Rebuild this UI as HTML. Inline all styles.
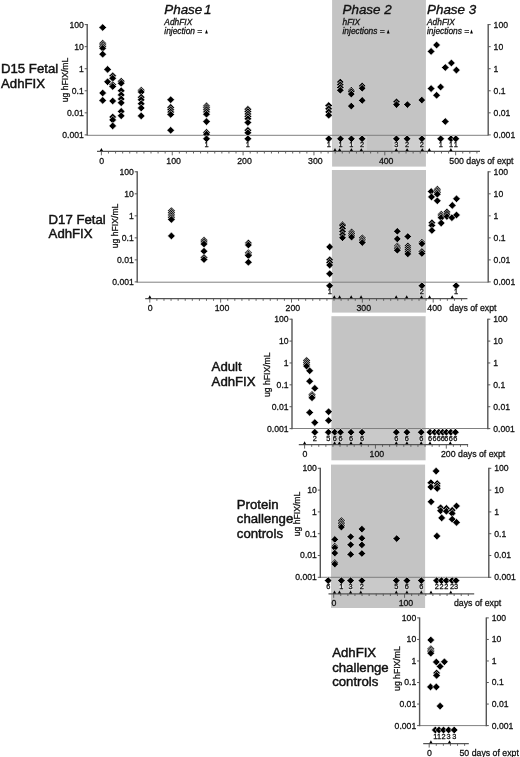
<!DOCTYPE html>
<html><head><meta charset="utf-8"><title>hFIX expression figure</title>
<style>
html,body{margin:0;padding:0;background:#fff;}
body{width:520px;height:757px;overflow:hidden;}
svg{display:block;filter:blur(0.35px);}
text{font-family:"Liberation Sans",Arial,sans-serif;fill:#111;stroke:#111;stroke-width:0.28px;}
.t{font-size:8.65px;}
.u{font-size:8.75px;}
.s{font-size:7.4px;}
.T{font-size:13.2px;stroke-width:0.45px;}
.y{font-size:8.65px;}
.P{font-size:13.4px;font-style:italic;stroke-width:0.35px;}
.P1{word-spacing:-2px;}
.p{font-size:8.4px;font-style:italic;}
.d{fill:#000;stroke:#fff;stroke-width:0.6;stroke-linejoin:miter;}
</style></head>
<body>
<svg width="520" height="757" viewBox="0 0 520 757">
<rect width="520" height="757" fill="#fff"/>
<rect x="332.1" y="0" width="93.8" height="166.6" fill="#c4c4c4"/>
<rect x="331.9" y="170" width="94.1" height="142.6" fill="#c4c4c4"/>
<rect x="331.4" y="316.2" width="94.2" height="144.1" fill="#c4c4c4"/>
<rect x="331" y="464.6" width="94.1" height="143.4" fill="#c4c4c4"/>
<rect x="332.5" y="136.3" width="34.5" height="14.2" fill="#cfcfcf"/>
<rect x="392.5" y="136.3" width="33.3" height="14.2" fill="#cfcfcf"/>
<rect x="331.9" y="283" width="94.1" height="15" fill="#c9c9c9"/>
<rect x="331.4" y="429.3" width="94.2" height="14.7" fill="#c9c9c9"/>
<rect x="331" y="578.2" width="94.1" height="15.1" fill="#c9c9c9"/>
<line x1="87.2" y1="135.3" x2="488.2" y2="135.3" stroke="#808080" stroke-width="1"/>
<line x1="87.2" y1="24.1" x2="87.2" y2="135.5" stroke="#555" stroke-width="1.4"/>
<line x1="488.2" y1="24.1" x2="488.2" y2="135.5" stroke="#555" stroke-width="1.4"/>
<line x1="84.7" y1="24.6" x2="87.2" y2="24.6" stroke="#555" stroke-width="1"/>
<line x1="488.2" y1="24.6" x2="490.7" y2="24.6" stroke="#555" stroke-width="1"/>
<text class="t" x="83.8" y="27.5" text-anchor="end">100</text>
<text class="t" x="493.6" y="27.5">100</text>
<line x1="84.7" y1="46.66" x2="87.2" y2="46.66" stroke="#555" stroke-width="1"/>
<line x1="488.2" y1="46.66" x2="490.7" y2="46.66" stroke="#555" stroke-width="1"/>
<text class="t" x="83.8" y="49.56" text-anchor="end">10</text>
<text class="t" x="493.6" y="49.56">10</text>
<line x1="84.7" y1="68.72" x2="87.2" y2="68.72" stroke="#555" stroke-width="1"/>
<line x1="488.2" y1="68.72" x2="490.7" y2="68.72" stroke="#555" stroke-width="1"/>
<text class="t" x="83.8" y="71.62" text-anchor="end">1</text>
<text class="t" x="493.6" y="71.62">1</text>
<line x1="84.7" y1="90.78" x2="87.2" y2="90.78" stroke="#555" stroke-width="1"/>
<line x1="488.2" y1="90.78" x2="490.7" y2="90.78" stroke="#555" stroke-width="1"/>
<text class="t" x="83.8" y="93.68" text-anchor="end">0.1</text>
<text class="t" x="493.6" y="93.68">0.1</text>
<line x1="84.7" y1="112.84" x2="87.2" y2="112.84" stroke="#555" stroke-width="1"/>
<line x1="488.2" y1="112.84" x2="490.7" y2="112.84" stroke="#555" stroke-width="1"/>
<text class="t" x="83.8" y="115.74" text-anchor="end">0.01</text>
<text class="t" x="493.6" y="115.74">0.01</text>
<line x1="84.7" y1="134.9" x2="87.2" y2="134.9" stroke="#555" stroke-width="1"/>
<line x1="488.2" y1="134.9" x2="490.7" y2="134.9" stroke="#555" stroke-width="1"/>
<text class="t" x="83.8" y="137.8" text-anchor="end">0.001</text>
<text class="t" x="493.6" y="137.8">0.001</text>
<line x1="97" y1="151.3" x2="480" y2="151.3" stroke="#555" stroke-width="1.2"/>
<line x1="101.4" y1="151.3" x2="101.4" y2="155.3" stroke="#555" stroke-width="0.9"/>
<line x1="108.48" y1="151.3" x2="108.48" y2="153.5" stroke="#555" stroke-width="0.9"/>
<line x1="115.57" y1="151.3" x2="115.57" y2="153.5" stroke="#555" stroke-width="0.9"/>
<line x1="122.66" y1="151.3" x2="122.66" y2="153.5" stroke="#555" stroke-width="0.9"/>
<line x1="129.74" y1="151.3" x2="129.74" y2="153.5" stroke="#555" stroke-width="0.9"/>
<line x1="136.83" y1="151.3" x2="136.83" y2="153.5" stroke="#555" stroke-width="0.9"/>
<line x1="143.91" y1="151.3" x2="143.91" y2="153.5" stroke="#555" stroke-width="0.9"/>
<line x1="151" y1="151.3" x2="151" y2="153.5" stroke="#555" stroke-width="0.9"/>
<line x1="158.08" y1="151.3" x2="158.08" y2="153.5" stroke="#555" stroke-width="0.9"/>
<line x1="165.17" y1="151.3" x2="165.17" y2="153.5" stroke="#555" stroke-width="0.9"/>
<line x1="172.25" y1="151.3" x2="172.25" y2="155.3" stroke="#555" stroke-width="0.9"/>
<line x1="179.34" y1="151.3" x2="179.34" y2="153.5" stroke="#555" stroke-width="0.9"/>
<line x1="186.42" y1="151.3" x2="186.42" y2="153.5" stroke="#555" stroke-width="0.9"/>
<line x1="193.5" y1="151.3" x2="193.5" y2="153.5" stroke="#555" stroke-width="0.9"/>
<line x1="200.59" y1="151.3" x2="200.59" y2="153.5" stroke="#555" stroke-width="0.9"/>
<line x1="207.68" y1="151.3" x2="207.68" y2="153.5" stroke="#555" stroke-width="0.9"/>
<line x1="214.76" y1="151.3" x2="214.76" y2="153.5" stroke="#555" stroke-width="0.9"/>
<line x1="221.85" y1="151.3" x2="221.85" y2="153.5" stroke="#555" stroke-width="0.9"/>
<line x1="228.93" y1="151.3" x2="228.93" y2="153.5" stroke="#555" stroke-width="0.9"/>
<line x1="236.02" y1="151.3" x2="236.02" y2="153.5" stroke="#555" stroke-width="0.9"/>
<line x1="243.1" y1="151.3" x2="243.1" y2="155.3" stroke="#555" stroke-width="0.9"/>
<line x1="250.19" y1="151.3" x2="250.19" y2="153.5" stroke="#555" stroke-width="0.9"/>
<line x1="257.27" y1="151.3" x2="257.27" y2="153.5" stroke="#555" stroke-width="0.9"/>
<line x1="264.36" y1="151.3" x2="264.36" y2="153.5" stroke="#555" stroke-width="0.9"/>
<line x1="271.44" y1="151.3" x2="271.44" y2="153.5" stroke="#555" stroke-width="0.9"/>
<line x1="278.52" y1="151.3" x2="278.52" y2="153.5" stroke="#555" stroke-width="0.9"/>
<line x1="285.61" y1="151.3" x2="285.61" y2="153.5" stroke="#555" stroke-width="0.9"/>
<line x1="292.7" y1="151.3" x2="292.7" y2="153.5" stroke="#555" stroke-width="0.9"/>
<line x1="299.78" y1="151.3" x2="299.78" y2="153.5" stroke="#555" stroke-width="0.9"/>
<line x1="306.87" y1="151.3" x2="306.87" y2="153.5" stroke="#555" stroke-width="0.9"/>
<line x1="313.95" y1="151.3" x2="313.95" y2="155.3" stroke="#555" stroke-width="0.9"/>
<line x1="321.04" y1="151.3" x2="321.04" y2="153.5" stroke="#555" stroke-width="0.9"/>
<line x1="328.12" y1="151.3" x2="328.12" y2="153.5" stroke="#555" stroke-width="0.9"/>
<line x1="335.21" y1="151.3" x2="335.21" y2="153.5" stroke="#555" stroke-width="0.9"/>
<line x1="342.29" y1="151.3" x2="342.29" y2="153.5" stroke="#555" stroke-width="0.9"/>
<line x1="349.38" y1="151.3" x2="349.38" y2="153.5" stroke="#555" stroke-width="0.9"/>
<line x1="356.46" y1="151.3" x2="356.46" y2="153.5" stroke="#555" stroke-width="0.9"/>
<line x1="363.54" y1="151.3" x2="363.54" y2="153.5" stroke="#555" stroke-width="0.9"/>
<line x1="370.63" y1="151.3" x2="370.63" y2="153.5" stroke="#555" stroke-width="0.9"/>
<line x1="377.72" y1="151.3" x2="377.72" y2="153.5" stroke="#555" stroke-width="0.9"/>
<line x1="384.8" y1="151.3" x2="384.8" y2="155.3" stroke="#555" stroke-width="0.9"/>
<line x1="391.88" y1="151.3" x2="391.88" y2="153.5" stroke="#555" stroke-width="0.9"/>
<line x1="398.97" y1="151.3" x2="398.97" y2="153.5" stroke="#555" stroke-width="0.9"/>
<line x1="406.06" y1="151.3" x2="406.06" y2="153.5" stroke="#555" stroke-width="0.9"/>
<line x1="413.14" y1="151.3" x2="413.14" y2="153.5" stroke="#555" stroke-width="0.9"/>
<line x1="420.23" y1="151.3" x2="420.23" y2="153.5" stroke="#555" stroke-width="0.9"/>
<line x1="427.31" y1="151.3" x2="427.31" y2="153.5" stroke="#555" stroke-width="0.9"/>
<line x1="434.39" y1="151.3" x2="434.39" y2="153.5" stroke="#555" stroke-width="0.9"/>
<line x1="441.48" y1="151.3" x2="441.48" y2="153.5" stroke="#555" stroke-width="0.9"/>
<line x1="448.57" y1="151.3" x2="448.57" y2="153.5" stroke="#555" stroke-width="0.9"/>
<line x1="455.65" y1="151.3" x2="455.65" y2="155.3" stroke="#555" stroke-width="0.9"/>
<line x1="462.74" y1="151.3" x2="462.74" y2="153.5" stroke="#555" stroke-width="0.9"/>
<line x1="469.82" y1="151.3" x2="469.82" y2="153.5" stroke="#555" stroke-width="0.9"/>
<line x1="476.9" y1="151.3" x2="476.9" y2="153.5" stroke="#555" stroke-width="0.9"/>
<text class="u" x="101.7" y="163.9" text-anchor="middle">0</text>
<text class="u" x="173.65" y="163.9" text-anchor="middle">100</text>
<text class="u" x="244.5" y="163.9" text-anchor="middle">200</text>
<text class="u" x="315.35" y="163.9" text-anchor="middle">300</text>
<text class="u" x="386.2" y="163.9" text-anchor="middle">400</text>
<text class="u" x="449.3" y="163.9">500 days of expt</text>
<line x1="137.2" y1="282.2" x2="488.2" y2="282.2" stroke="#808080" stroke-width="1"/>
<line x1="137.2" y1="171.3" x2="137.2" y2="282.5" stroke="#555" stroke-width="1.4"/>
<line x1="488.2" y1="171.3" x2="488.2" y2="282.5" stroke="#555" stroke-width="1.4"/>
<line x1="134.7" y1="171.8" x2="137.2" y2="171.8" stroke="#555" stroke-width="1"/>
<line x1="488.2" y1="171.8" x2="490.7" y2="171.8" stroke="#555" stroke-width="1"/>
<text class="t" x="133.8" y="174.7" text-anchor="end">100</text>
<text class="t" x="493.6" y="174.7">100</text>
<line x1="134.7" y1="193.82" x2="137.2" y2="193.82" stroke="#555" stroke-width="1"/>
<line x1="488.2" y1="193.82" x2="490.7" y2="193.82" stroke="#555" stroke-width="1"/>
<text class="t" x="133.8" y="196.72" text-anchor="end">10</text>
<text class="t" x="493.6" y="196.72">10</text>
<line x1="134.7" y1="215.84" x2="137.2" y2="215.84" stroke="#555" stroke-width="1"/>
<line x1="488.2" y1="215.84" x2="490.7" y2="215.84" stroke="#555" stroke-width="1"/>
<text class="t" x="133.8" y="218.74" text-anchor="end">1</text>
<text class="t" x="493.6" y="218.74">1</text>
<line x1="134.7" y1="237.86" x2="137.2" y2="237.86" stroke="#555" stroke-width="1"/>
<line x1="488.2" y1="237.86" x2="490.7" y2="237.86" stroke="#555" stroke-width="1"/>
<text class="t" x="133.8" y="240.76" text-anchor="end">0.1</text>
<text class="t" x="493.6" y="240.76">0.1</text>
<line x1="134.7" y1="259.88" x2="137.2" y2="259.88" stroke="#555" stroke-width="1"/>
<line x1="488.2" y1="259.88" x2="490.7" y2="259.88" stroke="#555" stroke-width="1"/>
<text class="t" x="133.8" y="262.78" text-anchor="end">0.01</text>
<text class="t" x="493.6" y="262.78">0.01</text>
<line x1="134.7" y1="281.9" x2="137.2" y2="281.9" stroke="#555" stroke-width="1"/>
<line x1="488.2" y1="281.9" x2="490.7" y2="281.9" stroke="#555" stroke-width="1"/>
<text class="t" x="133.8" y="284.8" text-anchor="end">0.001</text>
<text class="t" x="493.6" y="284.8">0.001</text>
<line x1="145.2" y1="298.6" x2="467.4" y2="298.6" stroke="#555" stroke-width="1.2"/>
<line x1="149.8" y1="298.6" x2="149.8" y2="302.6" stroke="#555" stroke-width="0.9"/>
<line x1="156.89" y1="298.6" x2="156.89" y2="300.8" stroke="#555" stroke-width="0.9"/>
<line x1="163.97" y1="298.6" x2="163.97" y2="300.8" stroke="#555" stroke-width="0.9"/>
<line x1="171.06" y1="298.6" x2="171.06" y2="300.8" stroke="#555" stroke-width="0.9"/>
<line x1="178.14" y1="298.6" x2="178.14" y2="300.8" stroke="#555" stroke-width="0.9"/>
<line x1="185.23" y1="298.6" x2="185.23" y2="300.8" stroke="#555" stroke-width="0.9"/>
<line x1="192.31" y1="298.6" x2="192.31" y2="300.8" stroke="#555" stroke-width="0.9"/>
<line x1="199.4" y1="298.6" x2="199.4" y2="300.8" stroke="#555" stroke-width="0.9"/>
<line x1="206.48" y1="298.6" x2="206.48" y2="300.8" stroke="#555" stroke-width="0.9"/>
<line x1="213.56" y1="298.6" x2="213.56" y2="300.8" stroke="#555" stroke-width="0.9"/>
<line x1="220.65" y1="298.6" x2="220.65" y2="302.6" stroke="#555" stroke-width="0.9"/>
<line x1="227.74" y1="298.6" x2="227.74" y2="300.8" stroke="#555" stroke-width="0.9"/>
<line x1="234.82" y1="298.6" x2="234.82" y2="300.8" stroke="#555" stroke-width="0.9"/>
<line x1="241.91" y1="298.6" x2="241.91" y2="300.8" stroke="#555" stroke-width="0.9"/>
<line x1="248.99" y1="298.6" x2="248.99" y2="300.8" stroke="#555" stroke-width="0.9"/>
<line x1="256.08" y1="298.6" x2="256.08" y2="300.8" stroke="#555" stroke-width="0.9"/>
<line x1="263.16" y1="298.6" x2="263.16" y2="300.8" stroke="#555" stroke-width="0.9"/>
<line x1="270.25" y1="298.6" x2="270.25" y2="300.8" stroke="#555" stroke-width="0.9"/>
<line x1="277.33" y1="298.6" x2="277.33" y2="300.8" stroke="#555" stroke-width="0.9"/>
<line x1="284.42" y1="298.6" x2="284.42" y2="300.8" stroke="#555" stroke-width="0.9"/>
<line x1="291.5" y1="298.6" x2="291.5" y2="302.6" stroke="#555" stroke-width="0.9"/>
<line x1="298.59" y1="298.6" x2="298.59" y2="300.8" stroke="#555" stroke-width="0.9"/>
<line x1="305.67" y1="298.6" x2="305.67" y2="300.8" stroke="#555" stroke-width="0.9"/>
<line x1="312.75" y1="298.6" x2="312.75" y2="300.8" stroke="#555" stroke-width="0.9"/>
<line x1="319.84" y1="298.6" x2="319.84" y2="300.8" stroke="#555" stroke-width="0.9"/>
<line x1="326.93" y1="298.6" x2="326.93" y2="300.8" stroke="#555" stroke-width="0.9"/>
<line x1="334.01" y1="298.6" x2="334.01" y2="300.8" stroke="#555" stroke-width="0.9"/>
<line x1="341.1" y1="298.6" x2="341.1" y2="300.8" stroke="#555" stroke-width="0.9"/>
<line x1="348.18" y1="298.6" x2="348.18" y2="300.8" stroke="#555" stroke-width="0.9"/>
<line x1="355.26" y1="298.6" x2="355.26" y2="300.8" stroke="#555" stroke-width="0.9"/>
<line x1="362.35" y1="298.6" x2="362.35" y2="302.6" stroke="#555" stroke-width="0.9"/>
<line x1="369.44" y1="298.6" x2="369.44" y2="300.8" stroke="#555" stroke-width="0.9"/>
<line x1="376.52" y1="298.6" x2="376.52" y2="300.8" stroke="#555" stroke-width="0.9"/>
<line x1="383.61" y1="298.6" x2="383.61" y2="300.8" stroke="#555" stroke-width="0.9"/>
<line x1="390.69" y1="298.6" x2="390.69" y2="300.8" stroke="#555" stroke-width="0.9"/>
<line x1="397.77" y1="298.6" x2="397.77" y2="300.8" stroke="#555" stroke-width="0.9"/>
<line x1="404.86" y1="298.6" x2="404.86" y2="300.8" stroke="#555" stroke-width="0.9"/>
<line x1="411.94" y1="298.6" x2="411.94" y2="300.8" stroke="#555" stroke-width="0.9"/>
<line x1="419.03" y1="298.6" x2="419.03" y2="300.8" stroke="#555" stroke-width="0.9"/>
<line x1="426.12" y1="298.6" x2="426.12" y2="300.8" stroke="#555" stroke-width="0.9"/>
<line x1="433.2" y1="298.6" x2="433.2" y2="302.6" stroke="#555" stroke-width="0.9"/>
<line x1="440.29" y1="298.6" x2="440.29" y2="300.8" stroke="#555" stroke-width="0.9"/>
<line x1="447.37" y1="298.6" x2="447.37" y2="300.8" stroke="#555" stroke-width="0.9"/>
<line x1="454.46" y1="298.6" x2="454.46" y2="300.8" stroke="#555" stroke-width="0.9"/>
<line x1="461.54" y1="298.6" x2="461.54" y2="300.8" stroke="#555" stroke-width="0.9"/>
<text class="u" x="150.1" y="311.2" text-anchor="middle">0</text>
<text class="u" x="222.05" y="311.2" text-anchor="middle">100</text>
<text class="u" x="292.9" y="311.2" text-anchor="middle">200</text>
<text class="u" x="363.75" y="311.2" text-anchor="middle">300</text>
<text class="u" x="434.6" y="311.2" text-anchor="middle">400</text>
<text class="u" x="449.3" y="311.2">days of expt</text>
<line x1="292" y1="428.5" x2="487.8" y2="428.5" stroke="#808080" stroke-width="1"/>
<line x1="292" y1="318.7" x2="292" y2="429.2" stroke="#555" stroke-width="1.4"/>
<line x1="487.8" y1="318.7" x2="487.8" y2="429.2" stroke="#555" stroke-width="1.4"/>
<line x1="289.5" y1="319.2" x2="292" y2="319.2" stroke="#555" stroke-width="1"/>
<line x1="487.8" y1="319.2" x2="490.3" y2="319.2" stroke="#555" stroke-width="1"/>
<text class="t" x="288.6" y="322.1" text-anchor="end">100</text>
<text class="t" x="493.2" y="322.1">100</text>
<line x1="289.5" y1="341.08" x2="292" y2="341.08" stroke="#555" stroke-width="1"/>
<line x1="487.8" y1="341.08" x2="490.3" y2="341.08" stroke="#555" stroke-width="1"/>
<text class="t" x="288.6" y="343.98" text-anchor="end">10</text>
<text class="t" x="493.2" y="343.98">10</text>
<line x1="289.5" y1="362.96" x2="292" y2="362.96" stroke="#555" stroke-width="1"/>
<line x1="487.8" y1="362.96" x2="490.3" y2="362.96" stroke="#555" stroke-width="1"/>
<text class="t" x="288.6" y="365.86" text-anchor="end">1</text>
<text class="t" x="493.2" y="365.86">1</text>
<line x1="289.5" y1="384.84" x2="292" y2="384.84" stroke="#555" stroke-width="1"/>
<line x1="487.8" y1="384.84" x2="490.3" y2="384.84" stroke="#555" stroke-width="1"/>
<text class="t" x="288.6" y="387.74" text-anchor="end">0.1</text>
<text class="t" x="493.2" y="387.74">0.1</text>
<line x1="289.5" y1="406.72" x2="292" y2="406.72" stroke="#555" stroke-width="1"/>
<line x1="487.8" y1="406.72" x2="490.3" y2="406.72" stroke="#555" stroke-width="1"/>
<text class="t" x="288.6" y="409.62" text-anchor="end">0.01</text>
<text class="t" x="493.2" y="409.62">0.01</text>
<line x1="289.5" y1="428.6" x2="292" y2="428.6" stroke="#555" stroke-width="1"/>
<line x1="487.8" y1="428.6" x2="490.3" y2="428.6" stroke="#555" stroke-width="1"/>
<text class="t" x="288.6" y="431.5" text-anchor="end">0.001</text>
<text class="t" x="493.2" y="431.5">0.001</text>
<line x1="298.8" y1="444.6" x2="468.1" y2="444.6" stroke="#555" stroke-width="1.2"/>
<line x1="304.6" y1="444.6" x2="304.6" y2="448.6" stroke="#555" stroke-width="0.9"/>
<line x1="311.69" y1="444.6" x2="311.69" y2="446.8" stroke="#555" stroke-width="0.9"/>
<line x1="318.77" y1="444.6" x2="318.77" y2="446.8" stroke="#555" stroke-width="0.9"/>
<line x1="325.86" y1="444.6" x2="325.86" y2="446.8" stroke="#555" stroke-width="0.9"/>
<line x1="332.94" y1="444.6" x2="332.94" y2="446.8" stroke="#555" stroke-width="0.9"/>
<line x1="340.03" y1="444.6" x2="340.03" y2="446.8" stroke="#555" stroke-width="0.9"/>
<line x1="347.11" y1="444.6" x2="347.11" y2="446.8" stroke="#555" stroke-width="0.9"/>
<line x1="354.2" y1="444.6" x2="354.2" y2="446.8" stroke="#555" stroke-width="0.9"/>
<line x1="361.28" y1="444.6" x2="361.28" y2="446.8" stroke="#555" stroke-width="0.9"/>
<line x1="368.37" y1="444.6" x2="368.37" y2="446.8" stroke="#555" stroke-width="0.9"/>
<line x1="375.45" y1="444.6" x2="375.45" y2="448.6" stroke="#555" stroke-width="0.9"/>
<line x1="382.54" y1="444.6" x2="382.54" y2="446.8" stroke="#555" stroke-width="0.9"/>
<line x1="389.62" y1="444.6" x2="389.62" y2="446.8" stroke="#555" stroke-width="0.9"/>
<line x1="396.71" y1="444.6" x2="396.71" y2="446.8" stroke="#555" stroke-width="0.9"/>
<line x1="403.79" y1="444.6" x2="403.79" y2="446.8" stroke="#555" stroke-width="0.9"/>
<line x1="410.88" y1="444.6" x2="410.88" y2="446.8" stroke="#555" stroke-width="0.9"/>
<line x1="417.96" y1="444.6" x2="417.96" y2="446.8" stroke="#555" stroke-width="0.9"/>
<line x1="425.05" y1="444.6" x2="425.05" y2="446.8" stroke="#555" stroke-width="0.9"/>
<line x1="432.13" y1="444.6" x2="432.13" y2="446.8" stroke="#555" stroke-width="0.9"/>
<line x1="439.22" y1="444.6" x2="439.22" y2="446.8" stroke="#555" stroke-width="0.9"/>
<line x1="446.3" y1="444.6" x2="446.3" y2="448.6" stroke="#555" stroke-width="0.9"/>
<line x1="453.38" y1="444.6" x2="453.38" y2="446.8" stroke="#555" stroke-width="0.9"/>
<line x1="460.47" y1="444.6" x2="460.47" y2="446.8" stroke="#555" stroke-width="0.9"/>
<line x1="467.56" y1="444.6" x2="467.56" y2="446.8" stroke="#555" stroke-width="0.9"/>
<text class="u" x="304.9" y="457.2" text-anchor="middle">0</text>
<text class="u" x="376.85" y="457.2" text-anchor="middle">100</text>
<text class="u" x="441" y="457.2">200 days of expt</text>
<line x1="320.3" y1="577.3" x2="488.8" y2="577.3" stroke="#808080" stroke-width="1"/>
<line x1="320.3" y1="467.8" x2="320.3" y2="577.9" stroke="#555" stroke-width="1.4"/>
<line x1="488.8" y1="467.8" x2="488.8" y2="577.9" stroke="#555" stroke-width="1.4"/>
<line x1="317.8" y1="468.3" x2="320.3" y2="468.3" stroke="#555" stroke-width="1"/>
<line x1="488.8" y1="468.3" x2="491.3" y2="468.3" stroke="#555" stroke-width="1"/>
<text class="t" x="316.9" y="471.2" text-anchor="end">100</text>
<text class="t" x="494.2" y="471.2">100</text>
<line x1="317.8" y1="490.1" x2="320.3" y2="490.1" stroke="#555" stroke-width="1"/>
<line x1="488.8" y1="490.1" x2="491.3" y2="490.1" stroke="#555" stroke-width="1"/>
<text class="t" x="316.9" y="493" text-anchor="end">10</text>
<text class="t" x="494.2" y="493">10</text>
<line x1="317.8" y1="511.9" x2="320.3" y2="511.9" stroke="#555" stroke-width="1"/>
<line x1="488.8" y1="511.9" x2="491.3" y2="511.9" stroke="#555" stroke-width="1"/>
<text class="t" x="316.9" y="514.8" text-anchor="end">1</text>
<text class="t" x="494.2" y="514.8">1</text>
<line x1="317.8" y1="533.7" x2="320.3" y2="533.7" stroke="#555" stroke-width="1"/>
<line x1="488.8" y1="533.7" x2="491.3" y2="533.7" stroke="#555" stroke-width="1"/>
<text class="t" x="316.9" y="536.6" text-anchor="end">0.1</text>
<text class="t" x="494.2" y="536.6">0.1</text>
<line x1="317.8" y1="555.5" x2="320.3" y2="555.5" stroke="#555" stroke-width="1"/>
<line x1="488.8" y1="555.5" x2="491.3" y2="555.5" stroke="#555" stroke-width="1"/>
<text class="t" x="316.9" y="558.4" text-anchor="end">0.01</text>
<text class="t" x="494.2" y="558.4">0.01</text>
<line x1="317.8" y1="577.3" x2="320.3" y2="577.3" stroke="#555" stroke-width="1"/>
<line x1="488.8" y1="577.3" x2="491.3" y2="577.3" stroke="#555" stroke-width="1"/>
<text class="t" x="316.9" y="580.2" text-anchor="end">0.001</text>
<text class="t" x="494.2" y="580.2">0.001</text>
<line x1="328.5" y1="593.8" x2="474.2" y2="593.8" stroke="#555" stroke-width="1.2"/>
<line x1="333.7" y1="593.8" x2="333.7" y2="597.8" stroke="#555" stroke-width="0.9"/>
<line x1="340.78" y1="593.8" x2="340.78" y2="596" stroke="#555" stroke-width="0.9"/>
<line x1="347.87" y1="593.8" x2="347.87" y2="596" stroke="#555" stroke-width="0.9"/>
<line x1="354.95" y1="593.8" x2="354.95" y2="596" stroke="#555" stroke-width="0.9"/>
<line x1="362.04" y1="593.8" x2="362.04" y2="596" stroke="#555" stroke-width="0.9"/>
<line x1="369.12" y1="593.8" x2="369.12" y2="596" stroke="#555" stroke-width="0.9"/>
<line x1="376.21" y1="593.8" x2="376.21" y2="596" stroke="#555" stroke-width="0.9"/>
<line x1="383.29" y1="593.8" x2="383.29" y2="596" stroke="#555" stroke-width="0.9"/>
<line x1="390.38" y1="593.8" x2="390.38" y2="596" stroke="#555" stroke-width="0.9"/>
<line x1="397.46" y1="593.8" x2="397.46" y2="596" stroke="#555" stroke-width="0.9"/>
<line x1="404.55" y1="593.8" x2="404.55" y2="597.8" stroke="#555" stroke-width="0.9"/>
<line x1="411.63" y1="593.8" x2="411.63" y2="596" stroke="#555" stroke-width="0.9"/>
<line x1="418.72" y1="593.8" x2="418.72" y2="596" stroke="#555" stroke-width="0.9"/>
<line x1="425.81" y1="593.8" x2="425.81" y2="596" stroke="#555" stroke-width="0.9"/>
<line x1="432.89" y1="593.8" x2="432.89" y2="596" stroke="#555" stroke-width="0.9"/>
<line x1="439.98" y1="593.8" x2="439.98" y2="596" stroke="#555" stroke-width="0.9"/>
<line x1="447.06" y1="593.8" x2="447.06" y2="596" stroke="#555" stroke-width="0.9"/>
<line x1="454.14" y1="593.8" x2="454.14" y2="596" stroke="#555" stroke-width="0.9"/>
<line x1="461.23" y1="593.8" x2="461.23" y2="596" stroke="#555" stroke-width="0.9"/>
<line x1="468.31" y1="593.8" x2="468.31" y2="596" stroke="#555" stroke-width="0.9"/>
<text class="u" x="334" y="606.4" text-anchor="middle">0</text>
<text class="u" x="405.95" y="606.4" text-anchor="middle">100</text>
<text class="u" x="454" y="606.4">days of expt</text>
<line x1="419.6" y1="725.6" x2="486.3" y2="725.6" stroke="#808080" stroke-width="1"/>
<line x1="419.6" y1="617.4" x2="419.6" y2="726.2" stroke="#555" stroke-width="1.4"/>
<line x1="486.3" y1="617.4" x2="486.3" y2="726.2" stroke="#555" stroke-width="1.4"/>
<line x1="417.1" y1="617.9" x2="419.6" y2="617.9" stroke="#555" stroke-width="1"/>
<line x1="486.3" y1="617.9" x2="488.8" y2="617.9" stroke="#555" stroke-width="1"/>
<text class="t" x="416.2" y="620.8" text-anchor="end">100</text>
<text class="t" x="491.7" y="620.8">100</text>
<line x1="417.1" y1="639.44" x2="419.6" y2="639.44" stroke="#555" stroke-width="1"/>
<line x1="486.3" y1="639.44" x2="488.8" y2="639.44" stroke="#555" stroke-width="1"/>
<text class="t" x="416.2" y="642.34" text-anchor="end">10</text>
<text class="t" x="491.7" y="642.34">10</text>
<line x1="417.1" y1="660.98" x2="419.6" y2="660.98" stroke="#555" stroke-width="1"/>
<line x1="486.3" y1="660.98" x2="488.8" y2="660.98" stroke="#555" stroke-width="1"/>
<text class="t" x="416.2" y="663.88" text-anchor="end">1</text>
<text class="t" x="491.7" y="663.88">1</text>
<line x1="417.1" y1="682.52" x2="419.6" y2="682.52" stroke="#555" stroke-width="1"/>
<line x1="486.3" y1="682.52" x2="488.8" y2="682.52" stroke="#555" stroke-width="1"/>
<text class="t" x="416.2" y="685.42" text-anchor="end">0.1</text>
<text class="t" x="491.7" y="685.42">0.1</text>
<line x1="417.1" y1="704.06" x2="419.6" y2="704.06" stroke="#555" stroke-width="1"/>
<line x1="486.3" y1="704.06" x2="488.8" y2="704.06" stroke="#555" stroke-width="1"/>
<text class="t" x="416.2" y="706.96" text-anchor="end">0.01</text>
<text class="t" x="491.7" y="706.96">0.01</text>
<line x1="417.1" y1="725.6" x2="419.6" y2="725.6" stroke="#555" stroke-width="1"/>
<line x1="486.3" y1="725.6" x2="488.8" y2="725.6" stroke="#555" stroke-width="1"/>
<text class="t" x="416.2" y="728.5" text-anchor="end">0.001</text>
<text class="t" x="491.7" y="728.5">0.001</text>
<line x1="423.2" y1="743.6" x2="468.8" y2="743.6" stroke="#555" stroke-width="1.2"/>
<line x1="429.2" y1="743.6" x2="429.2" y2="747.6" stroke="#555" stroke-width="0.9"/>
<line x1="436.28" y1="743.6" x2="436.28" y2="745.8" stroke="#555" stroke-width="0.9"/>
<line x1="443.37" y1="743.6" x2="443.37" y2="745.8" stroke="#555" stroke-width="0.9"/>
<line x1="450.45" y1="743.6" x2="450.45" y2="745.8" stroke="#555" stroke-width="0.9"/>
<line x1="457.54" y1="743.6" x2="457.54" y2="745.8" stroke="#555" stroke-width="0.9"/>
<line x1="464.62" y1="743.6" x2="464.62" y2="745.8" stroke="#555" stroke-width="0.9"/>
<text class="u" x="429.5" y="756.2" text-anchor="middle">0</text>
<text class="u" x="459.5" y="756.2">50 days of expt</text>
<path d="M99.8 151L101.4 147.9L103 151Z" fill="#000"/>
<path d="M333.4 151L335 147.9L336.6 151Z" fill="#000"/>
<path d="M338 151L339.6 147.9L341.2 151Z" fill="#000"/>
<path d="M349.8 151L351.4 147.9L353 151Z" fill="#000"/>
<path d="M359.7 151L361.3 147.9L362.9 151Z" fill="#000"/>
<path d="M394.7 151L396.3 147.9L397.9 151Z" fill="#000"/>
<path d="M405.5 151L407.1 147.9L408.7 151Z" fill="#000"/>
<path d="M420.7 151L422.3 147.9L423.9 151Z" fill="#000"/>
<path d="M427.7 151L429.3 147.9L430.9 151Z" fill="#000"/>
<path d="M449.3 151L450.9 147.9L452.5 151Z" fill="#000"/>
<path d="M148.2 298.3L149.8 295.2L151.4 298.3Z" fill="#000"/>
<path d="M332.7 298.3L334.3 295.2L335.9 298.3Z" fill="#000"/>
<path d="M338 298.3L339.6 295.2L341.2 298.3Z" fill="#000"/>
<path d="M349.6 298.3L351.2 295.2L352.8 298.3Z" fill="#000"/>
<path d="M359.5 298.3L361.1 295.2L362.7 298.3Z" fill="#000"/>
<path d="M394.6 298.3L396.2 295.2L397.8 298.3Z" fill="#000"/>
<path d="M405.1 298.3L406.7 295.2L408.3 298.3Z" fill="#000"/>
<path d="M419.9 298.3L421.5 295.2L423.1 298.3Z" fill="#000"/>
<path d="M428 298.3L429.6 295.2L431.2 298.3Z" fill="#000"/>
<path d="M450.6 298.3L452.2 295.2L453.8 298.3Z" fill="#000"/>
<path d="M303 444.3L304.6 441.2L306.2 444.3Z" fill="#000"/>
<path d="M333 444.3L334.6 441.2L336.2 444.3Z" fill="#000"/>
<path d="M337.8 444.3L339.4 441.2L341 444.3Z" fill="#000"/>
<path d="M349.4 444.3L351 441.2L352.6 444.3Z" fill="#000"/>
<path d="M359.4 444.3L361 441.2L362.6 444.3Z" fill="#000"/>
<path d="M394.7 444.3L396.3 441.2L397.9 444.3Z" fill="#000"/>
<path d="M405.3 444.3L406.9 441.2L408.5 444.3Z" fill="#000"/>
<path d="M419.6 444.3L421.2 441.2L422.8 444.3Z" fill="#000"/>
<path d="M428.4 444.3L430 441.2L431.6 444.3Z" fill="#000"/>
<path d="M448.7 444.3L450.3 441.2L451.9 444.3Z" fill="#000"/>
<path d="M332.9 593.5L334.5 590.4L336.1 593.5Z" fill="#000"/>
<path d="M337.8 593.5L339.4 590.4L341 593.5Z" fill="#000"/>
<path d="M349 593.5L350.6 590.4L352.2 593.5Z" fill="#000"/>
<path d="M359.2 593.5L360.8 590.4L362.4 593.5Z" fill="#000"/>
<path d="M394.7 593.5L396.3 590.4L397.9 593.5Z" fill="#000"/>
<path d="M405.3 593.5L406.9 590.4L408.5 593.5Z" fill="#000"/>
<path d="M419.7 593.5L421.3 590.4L422.9 593.5Z" fill="#000"/>
<path d="M429.4 593.5L431 590.4L432.6 593.5Z" fill="#000"/>
<path d="M449.2 593.5L450.8 590.4L452.4 593.5Z" fill="#000"/>
<path d="M429.3 743.3L430.9 740.2L432.5 743.3Z" fill="#000"/>
<path d="M447.9 743.3L449.5 740.2L451.1 743.3Z" fill="#000"/>
<path class="d" d="M102.7 23.7L106.5 27.5L102.7 31.3L98.9 27.5Z"/>
<path class="d" d="M102.7 39.4L106.5 43.2L102.7 47L98.9 43.2Z"/>
<path class="d" d="M102.7 41.1L106.5 44.9L102.7 48.7L98.9 44.9Z"/>
<path class="d" d="M102.7 42.8L106.5 46.6L102.7 50.4L98.9 46.6Z"/>
<path class="d" d="M102.7 44.5L106.5 48.3L102.7 52.1L98.9 48.3Z"/>
<path class="d" d="M102.7 50.4L106.5 54.2L102.7 58L98.9 54.2Z"/>
<path class="d" d="M102.7 89.2L106.5 93L102.7 96.8L98.9 93Z"/>
<path class="d" d="M102.7 96.6L106.5 100.4L102.7 104.2L98.9 100.4Z"/>
<path class="d" d="M107.6 65.6L111.4 69.4L107.6 73.2L103.8 69.4Z"/>
<path class="d" d="M107.6 78L111.4 81.8L107.6 85.6L103.8 81.8Z"/>
<path class="d" d="M112.7 72L116.5 75.8L112.7 79.6L108.9 75.8Z"/>
<path class="d" d="M112.7 74.5L116.5 78.3L112.7 82.1L108.9 78.3Z"/>
<path class="d" d="M112.7 80.9L116.5 84.7L112.7 88.5L108.9 84.7Z"/>
<path class="d" d="M112.7 82.7L116.5 86.5L112.7 90.3L108.9 86.5Z"/>
<path class="d" d="M112.7 97.2L116.5 101L112.7 104.8L108.9 101Z"/>
<path class="d" d="M112.7 113.2L116.5 117L112.7 120.8L108.9 117Z"/>
<path class="d" d="M112.7 116.1L116.5 119.9L112.7 123.7L108.9 119.9Z"/>
<path class="d" d="M112.7 122.1L116.5 125.9L112.7 129.7L108.9 125.9Z"/>
<path class="d" d="M121.2 77.4L125 81.2L121.2 85L117.4 81.2Z"/>
<path class="d" d="M121.2 79.4L125 83.2L121.2 87L117.4 83.2Z"/>
<path class="d" d="M121.2 86.9L125 90.7L121.2 94.5L117.4 90.7Z"/>
<path class="d" d="M121.2 91.1L125 94.9L121.2 98.7L117.4 94.9Z"/>
<path class="d" d="M121.2 95.2L125 99L121.2 102.8L117.4 99Z"/>
<path class="d" d="M121.2 99L125 102.8L121.2 106.6L117.4 102.8Z"/>
<path class="d" d="M121.2 107.6L125 111.4L121.2 115.2L117.4 111.4Z"/>
<path class="d" d="M121.2 112L125 115.8L121.2 119.6L117.4 115.8Z"/>
<path class="d" d="M141.2 86.5L145 90.3L141.2 94.1L137.4 90.3Z"/>
<path class="d" d="M141.2 88.2L145 92L141.2 95.8L137.4 92Z"/>
<path class="d" d="M141.2 93.4L145 97.2L141.2 101L137.4 97.2Z"/>
<path class="d" d="M141.2 96L145 99.8L141.2 103.6L137.4 99.8Z"/>
<path class="d" d="M141.2 99.9L145 103.7L141.2 107.5L137.4 103.7Z"/>
<path class="d" d="M141.2 104.2L145 108L141.2 111.8L137.4 108Z"/>
<path class="d" d="M141.2 112.1L145 115.9L141.2 119.7L137.4 115.9Z"/>
<path class="d" d="M170.7 95.9L174.5 99.7L170.7 103.5L166.9 99.7Z"/>
<path class="d" d="M170.7 103.6L174.5 107.4L170.7 111.2L166.9 107.4Z"/>
<path class="d" d="M170.7 106L174.5 109.8L170.7 113.6L166.9 109.8Z"/>
<path class="d" d="M170.7 108.3L174.5 112.1L170.7 115.9L166.9 112.1Z"/>
<path class="d" d="M170.7 110.7L174.5 114.5L170.7 118.3L166.9 114.5Z"/>
<path class="d" d="M170.7 126.5L174.5 130.3L170.7 134.1L166.9 130.3Z"/>
<path class="d" d="M206.5 102.1L210.3 105.9L206.5 109.7L202.7 105.9Z"/>
<path class="d" d="M206.5 104L210.3 107.8L206.5 111.6L202.7 107.8Z"/>
<path class="d" d="M206.5 105.9L210.3 109.7L206.5 113.5L202.7 109.7Z"/>
<path class="d" d="M206.5 108.1L210.3 111.9L206.5 115.7L202.7 111.9Z"/>
<path class="d" d="M206.5 110.4L210.3 114.2L206.5 118L202.7 114.2Z"/>
<path class="d" d="M206.5 117.8L210.3 121.6L206.5 125.4L202.7 121.6Z"/>
<path class="d" d="M206.5 128.6L210.3 132.4L206.5 136.2L202.7 132.4Z"/>
<path class="d" d="M206.5 130.4L210.3 134.2L206.5 138L202.7 134.2Z"/>
<path class="d" d="M247.9 105.5L251.7 109.3L247.9 113.1L244.1 109.3Z"/>
<path class="d" d="M247.9 107.8L251.7 111.6L247.9 115.4L244.1 111.6Z"/>
<path class="d" d="M247.9 110.2L251.7 114L247.9 117.8L244.1 114Z"/>
<path class="d" d="M247.9 112.6L251.7 116.4L247.9 120.2L244.1 116.4Z"/>
<path class="d" d="M247.9 115L251.7 118.8L247.9 122.6L244.1 118.8Z"/>
<path class="d" d="M247.9 118.7L251.7 122.5L247.9 126.3L244.1 122.5Z"/>
<path class="d" d="M247.9 126.5L251.7 130.3L247.9 134.1L244.1 130.3Z"/>
<path class="d" d="M247.9 129L251.7 132.8L247.9 136.6L244.1 132.8Z"/>
<path class="d" d="M328.7 101.7L332.5 105.5L328.7 109.3L324.9 105.5Z"/>
<path class="d" d="M328.7 105L332.5 108.8L328.7 112.6L324.9 108.8Z"/>
<path class="d" d="M328.7 108.1L332.5 111.9L328.7 115.7L324.9 111.9Z"/>
<path class="d" d="M328.7 111.4L332.5 115.2L328.7 119L324.9 115.2Z"/>
<path class="d" d="M340.3 78.2L344.1 82L340.3 85.8L336.5 82Z"/>
<path class="d" d="M340.3 81L344.1 84.8L340.3 88.6L336.5 84.8Z"/>
<path class="d" d="M340.3 83.7L344.1 87.5L340.3 91.3L336.5 87.5Z"/>
<path class="d" d="M340.3 86.5L344.1 90.3L340.3 94.1L336.5 90.3Z"/>
<path class="d" d="M351.3 86.4L355.1 90.2L351.3 94L347.5 90.2Z"/>
<path class="d" d="M351.3 88L355.1 91.8L351.3 95.6L347.5 91.8Z"/>
<path class="d" d="M351.3 90.3L355.1 94.1L351.3 97.9L347.5 94.1Z"/>
<path class="d" d="M351.3 102.3L355.1 106.1L351.3 109.9L347.5 106.1Z"/>
<path class="d" d="M362.2 82.1L366 85.9L362.2 89.7L358.4 85.9Z"/>
<path class="d" d="M362.2 84.5L366 88.3L362.2 92.1L358.4 88.3Z"/>
<path class="d" d="M362.2 96.6L366 100.4L362.2 104.2L358.4 100.4Z"/>
<path class="d" d="M396.5 98L400.3 101.8L396.5 105.6L392.7 101.8Z"/>
<path class="d" d="M396.5 100.8L400.3 104.6L396.5 108.4L392.7 104.6Z"/>
<path class="d" d="M407.4 100.8L411.2 104.6L407.4 108.4L403.6 104.6Z"/>
<path class="d" d="M421.8 96.3L425.6 100.1L421.8 103.9L418 100.1Z"/>
<path class="d" d="M431.1 47.6L434.9 51.4L431.1 55.2L427.3 51.4Z"/>
<path class="d" d="M431.1 84.8L434.9 88.6L431.1 92.4L427.3 88.6Z"/>
<path class="d" d="M436.6 41.2L440.4 45L436.6 48.8L432.8 45Z"/>
<path class="d" d="M436.6 91.5L440.4 95.3L436.6 99.1L432.8 95.3Z"/>
<path class="d" d="M440.6 83.2L444.4 87L440.6 90.8L436.8 87Z"/>
<path class="d" d="M445.3 63.7L449.1 67.5L445.3 71.3L441.5 67.5Z"/>
<path class="d" d="M445.3 117.7L449.1 121.5L445.3 125.3L441.5 121.5Z"/>
<path class="d" d="M451.4 59.2L455.2 63L451.4 66.8L447.6 63Z"/>
<path class="d" d="M456.4 66.3L460.2 70.1L456.4 73.9L452.6 70.1Z"/>
<path class="d" d="M206.5 135L210.3 138.8L206.5 142.6L202.7 138.8Z"/>
<path class="d" d="M247.9 135L251.7 138.8L247.9 142.6L244.1 138.8Z"/>
<path class="d" d="M328.8 135L332.6 138.8L328.8 142.6L325 138.8Z"/>
<path class="d" d="M340.5 135L344.3 138.8L340.5 142.6L336.7 138.8Z"/>
<path class="d" d="M351.4 135L355.2 138.8L351.4 142.6L347.6 138.8Z"/>
<path class="d" d="M362.1 135L365.9 138.8L362.1 142.6L358.3 138.8Z"/>
<path class="d" d="M396.4 135L400.2 138.8L396.4 142.6L392.6 138.8Z"/>
<path class="d" d="M407.1 135L410.9 138.8L407.1 142.6L403.3 138.8Z"/>
<path class="d" d="M421.9 135L425.7 138.8L421.9 142.6L418.1 138.8Z"/>
<path class="d" d="M440.7 135L444.5 138.8L440.7 142.6L436.9 138.8Z"/>
<path class="d" d="M451 135L454.8 138.8L451 142.6L447.2 138.8Z"/>
<path class="d" d="M455.8 135L459.6 138.8L455.8 142.6L452 138.8Z"/>
<rect x="338.2" y="142.4" width="4.6" height="5.8" fill="#dcdcdc"/>
<rect x="349.1" y="142.4" width="4.6" height="5.8" fill="#dcdcdc"/>
<rect x="359.8" y="142.4" width="4.6" height="5.8" fill="#dcdcdc"/>
<rect x="394.1" y="142.4" width="4.6" height="5.8" fill="#dcdcdc"/>
<rect x="404.8" y="142.4" width="4.6" height="5.8" fill="#dcdcdc"/>
<rect x="419.6" y="142.4" width="4.6" height="5.8" fill="#dcdcdc"/>
<text class="s" x="206.5" y="147.4" text-anchor="middle">1</text>
<text class="s" x="247.9" y="147.4" text-anchor="middle">1</text>
<text class="s" x="328.8" y="147.4" text-anchor="middle">1</text>
<text class="s" x="340.5" y="147.4" text-anchor="middle">1</text>
<text class="s" x="351.4" y="147.4" text-anchor="middle">1</text>
<text class="s" x="362.1" y="147.4" text-anchor="middle">2</text>
<text class="s" x="396.4" y="147.4" text-anchor="middle">3</text>
<text class="s" x="407.1" y="147.4" text-anchor="middle">2</text>
<text class="s" x="421.9" y="147.4" text-anchor="middle">2</text>
<text class="s" x="440.7" y="147.4" text-anchor="middle">1</text>
<text class="s" x="451" y="147.4" text-anchor="middle">1</text>
<text class="s" x="455.8" y="147.4" text-anchor="middle">1</text>
<path class="d" d="M171.4 206.9L175.2 210.7L171.4 214.5L167.6 210.7Z"/>
<path class="d" d="M171.4 208.66L175.2 212.46L171.4 216.26L167.6 212.46Z"/>
<path class="d" d="M171.4 210.42L175.2 214.22L171.4 218.02L167.6 214.22Z"/>
<path class="d" d="M171.4 212.18L175.2 215.98L171.4 219.78L167.6 215.98Z"/>
<path class="d" d="M171.4 213.94L175.2 217.74L171.4 221.54L167.6 217.74Z"/>
<path class="d" d="M171.4 215.7L175.2 219.5L171.4 223.3L167.6 219.5Z"/>
<path class="d" d="M171.4 232.1L175.2 235.9L171.4 239.7L167.6 235.9Z"/>
<path class="d" d="M204 236.4L207.8 240.2L204 244L200.2 240.2Z"/>
<path class="d" d="M204 238.3L207.8 242.1L204 245.9L200.2 242.1Z"/>
<path class="d" d="M204 240.2L207.8 244L204 247.8L200.2 244Z"/>
<path class="d" d="M204 247.4L207.8 251.2L204 255L200.2 251.2Z"/>
<path class="d" d="M204 253.7L207.8 257.5L204 261.3L200.2 257.5Z"/>
<path class="d" d="M204 255.7L207.8 259.5L204 263.3L200.2 259.5Z"/>
<path class="d" d="M248.4 239.2L252.2 243L248.4 246.8L244.6 243Z"/>
<path class="d" d="M248.4 241.2L252.2 245L248.4 248.8L244.6 245Z"/>
<path class="d" d="M248.4 248.9L252.2 252.7L248.4 256.5L244.6 252.7Z"/>
<path class="d" d="M248.4 250.35L252.2 254.15L248.4 257.95L244.6 254.15Z"/>
<path class="d" d="M248.4 251.8L252.2 255.6L248.4 259.4L244.6 255.6Z"/>
<path class="d" d="M248.4 258.5L252.2 262.3L248.4 266.1L244.6 262.3Z"/>
<path class="d" d="M329.7 243.1L333.5 246.9L329.7 250.7L325.9 246.9Z"/>
<path class="d" d="M329.7 256L333.5 259.8L329.7 263.6L325.9 259.8Z"/>
<path class="d" d="M329.7 258.6L333.5 262.4L329.7 266.2L325.9 262.4Z"/>
<path class="d" d="M329.7 261.3L333.5 265.1L329.7 268.9L325.9 265.1Z"/>
<path class="d" d="M329.7 269.9L333.5 273.7L329.7 277.5L325.9 273.7Z"/>
<path class="d" d="M342.5 220.7L346.3 224.5L342.5 228.3L338.7 224.5Z"/>
<path class="d" d="M342.5 222L346.3 225.8L342.5 229.6L338.7 225.8Z"/>
<path class="d" d="M342.5 224.6L346.3 228.4L342.5 232.2L338.7 228.4Z"/>
<path class="d" d="M342.5 227.8L346.3 231.6L342.5 235.4L338.7 231.6Z"/>
<path class="d" d="M342.5 231L346.3 234.8L342.5 238.6L338.7 234.8Z"/>
<path class="d" d="M342.5 234L346.3 237.8L342.5 241.6L338.7 237.8Z"/>
<path class="d" d="M351.6 228.1L355.4 231.9L351.6 235.7L347.8 231.9Z"/>
<path class="d" d="M351.6 229.83L355.4 233.63L351.6 237.43L347.8 233.63Z"/>
<path class="d" d="M351.6 231.57L355.4 235.37L351.6 239.17L347.8 235.37Z"/>
<path class="d" d="M351.6 233.3L355.4 237.1L351.6 240.9L347.8 237.1Z"/>
<path class="d" d="M362.3 233.9L366.1 237.7L362.3 241.5L358.5 237.7Z"/>
<path class="d" d="M362.3 235.53L366.1 239.33L362.3 243.13L358.5 239.33Z"/>
<path class="d" d="M362.3 237.17L366.1 240.97L362.3 244.77L358.5 240.97Z"/>
<path class="d" d="M362.3 238.8L366.1 242.6L362.3 246.4L358.5 242.6Z"/>
<path class="d" d="M397.3 227.5L401.1 231.3L397.3 235.1L393.5 231.3Z"/>
<path class="d" d="M397.3 235.1L401.1 238.9L397.3 242.7L393.5 238.9Z"/>
<path class="d" d="M397.3 242.1L401.1 245.9L397.3 249.7L393.5 245.9Z"/>
<path class="d" d="M397.3 243.57L401.1 247.37L397.3 251.17L393.5 247.37Z"/>
<path class="d" d="M397.3 245.03L401.1 248.83L397.3 252.63L393.5 248.83Z"/>
<path class="d" d="M397.3 246.5L401.1 250.3L397.3 254.1L393.5 250.3Z"/>
<path class="d" d="M407.8 232.7L411.6 236.5L407.8 240.3L404 236.5Z"/>
<path class="d" d="M407.8 242.1L411.6 245.9L407.8 249.7L404 245.9Z"/>
<path class="d" d="M407.8 244.1L411.6 247.9L407.8 251.7L404 247.9Z"/>
<path class="d" d="M407.8 246.1L411.6 249.9L407.8 253.7L404 249.9Z"/>
<path class="d" d="M407.8 248.1L411.6 251.9L407.8 255.7L404 251.9Z"/>
<path class="d" d="M407.8 250.1L411.6 253.9L407.8 257.7L404 253.9Z"/>
<path class="d" d="M421.9 238.4L425.7 242.2L421.9 246L418.1 242.2Z"/>
<path class="d" d="M421.9 240L425.7 243.8L421.9 247.6L418.1 243.8Z"/>
<path class="d" d="M421.9 247.7L425.7 251.5L421.9 255.3L418.1 251.5Z"/>
<path class="d" d="M421.9 249.7L425.7 253.5L421.9 257.3L418.1 253.5Z"/>
<path class="d" d="M431.2 187.7L435 191.5L431.2 195.3L427.4 191.5Z"/>
<path class="d" d="M431.5 193.1L435.3 196.9L431.5 200.7L427.7 196.9Z"/>
<path class="d" d="M437.3 185.5L441.1 189.3L437.3 193.1L433.5 189.3Z"/>
<path class="d" d="M437.3 187.13L441.1 190.93L437.3 194.73L433.5 190.93Z"/>
<path class="d" d="M437.3 188.77L441.1 192.57L437.3 196.37L433.5 192.57Z"/>
<path class="d" d="M437.3 190.4L441.1 194.2L437.3 198L433.5 194.2Z"/>
<path class="d" d="M437.3 197L441.1 200.8L437.3 204.6L433.5 200.8Z"/>
<path class="d" d="M456.5 195L460.3 198.8L456.5 202.6L452.7 198.8Z"/>
<path class="d" d="M452.3 201.6L456.1 205.4L452.3 209.2L448.5 205.4Z"/>
<path class="d" d="M441.2 210.5L445 214.3L441.2 218.1L437.4 214.3Z"/>
<path class="d" d="M441.2 212.2L445 216L441.2 219.8L437.4 216Z"/>
<path class="d" d="M441.2 213.9L445 217.7L441.2 221.5L437.4 217.7Z"/>
<path class="d" d="M446.9 208.2L450.7 212L446.9 215.8L443.1 212Z"/>
<path class="d" d="M446.9 210.4L450.7 214.2L446.9 218L443.1 214.2Z"/>
<path class="d" d="M446.9 212.7L450.7 216.5L446.9 220.3L443.1 216.5Z"/>
<path class="d" d="M451.9 213.9L455.7 217.7L451.9 221.5L448.1 217.7Z"/>
<path class="d" d="M456.5 211.2L460.3 215L456.5 218.8L452.7 215Z"/>
<path class="d" d="M441.2 219.3L445 223.1L441.2 226.9L437.4 223.1Z"/>
<path class="d" d="M431.9 219L435.7 222.8L431.9 226.6L428.1 222.8Z"/>
<path class="d" d="M431.9 221.6L435.7 225.4L431.9 229.2L428.1 225.4Z"/>
<path class="d" d="M431.9 226.6L435.7 230.4L431.9 234.2L428.1 230.4Z"/>
<path class="d" d="M329.7 281.9L333.5 285.7L329.7 289.5L325.9 285.7Z"/>
<path class="d" d="M421.9 281.9L425.7 285.7L421.9 289.5L418.1 285.7Z"/>
<path class="d" d="M456.1 281.9L459.9 285.7L456.1 289.5L452.3 285.7Z"/>
<rect x="419.6" y="289.3" width="4.6" height="5.8" fill="#dcdcdc"/>
<text class="s" x="329.7" y="294.3" text-anchor="middle">1</text>
<text class="s" x="421.9" y="294.3" text-anchor="middle">2</text>
<text class="s" x="456.1" y="294.3" text-anchor="middle">1</text>
<path class="d" d="M306.6 356.8L310.4 360.6L306.6 364.4L302.8 360.6Z"/>
<path class="d" d="M306.6 358.7L310.4 362.5L306.6 366.3L302.8 362.5Z"/>
<path class="d" d="M306.6 360.5L310.4 364.3L306.6 368.1L302.8 364.3Z"/>
<path class="d" d="M306.6 362.3L310.4 366.1L306.6 369.9L302.8 366.1Z"/>
<path class="d" d="M309.7 367L313.5 370.8L309.7 374.6L305.9 370.8Z"/>
<path class="d" d="M309.7 377.5L313.5 381.3L309.7 385.1L305.9 381.3Z"/>
<path class="d" d="M314.8 384.5L318.6 388.3L314.8 392.1L311 388.3Z"/>
<path class="d" d="M312 390.7L315.8 394.5L312 398.3L308.2 394.5Z"/>
<path class="d" d="M312 392.35L315.8 396.15L312 399.95L308.2 396.15Z"/>
<path class="d" d="M312 394L315.8 397.8L312 401.6L308.2 397.8Z"/>
<path class="d" d="M309.7 408.7L313.5 412.5L309.7 416.3L305.9 412.5Z"/>
<path class="d" d="M314.8 418.8L318.6 422.6L314.8 426.4L311 422.6Z"/>
<path class="d" d="M328.6 407.9L332.4 411.7L328.6 415.5L324.8 411.7Z"/>
<path class="d" d="M328.6 416.7L332.4 420.5L328.6 424.3L324.8 420.5Z"/>
<path class="d" d="M314.8 428.4L318.6 432.2L314.8 436L311 432.2Z"/>
<path class="d" d="M328.4 428.4L332.2 432.2L328.4 436L324.6 432.2Z"/>
<path class="d" d="M334.7 428.4L338.5 432.2L334.7 436L330.9 432.2Z"/>
<path class="d" d="M340.5 428.4L344.3 432.2L340.5 436L336.7 432.2Z"/>
<path class="d" d="M351 428.4L354.8 432.2L351 436L347.2 432.2Z"/>
<path class="d" d="M362 428.4L365.8 432.2L362 436L358.2 432.2Z"/>
<path class="d" d="M396.3 428.4L400.1 432.2L396.3 436L392.5 432.2Z"/>
<path class="d" d="M406.9 428.4L410.7 432.2L406.9 436L403.1 432.2Z"/>
<path class="d" d="M421.2 428.4L425 432.2L421.2 436L417.4 432.2Z"/>
<path class="d" d="M430 428.4L433.8 432.2L430 436L426.2 432.2Z"/>
<path class="d" d="M434.6 428.4L438.4 432.2L434.6 436L430.8 432.2Z"/>
<path class="d" d="M438.8 428.4L442.6 432.2L438.8 436L435 432.2Z"/>
<path class="d" d="M442.7 428.4L446.5 432.2L442.7 436L438.9 432.2Z"/>
<path class="d" d="M446.4 428.4L450.2 432.2L446.4 436L442.6 432.2Z"/>
<path class="d" d="M450.8 428.4L454.6 432.2L450.8 436L447 432.2Z"/>
<path class="d" d="M455.4 428.4L459.2 432.2L455.4 436L451.6 432.2Z"/>
<rect x="332.4" y="435.8" width="4.6" height="5.8" fill="#dcdcdc"/>
<rect x="338.2" y="435.8" width="4.6" height="5.8" fill="#dcdcdc"/>
<rect x="348.7" y="435.8" width="4.6" height="5.8" fill="#dcdcdc"/>
<rect x="359.7" y="435.8" width="4.6" height="5.8" fill="#dcdcdc"/>
<rect x="394" y="435.8" width="4.6" height="5.8" fill="#dcdcdc"/>
<rect x="404.6" y="435.8" width="4.6" height="5.8" fill="#dcdcdc"/>
<rect x="418.9" y="435.8" width="4.6" height="5.8" fill="#dcdcdc"/>
<text class="s" x="314.8" y="440.8" text-anchor="middle">2</text>
<text class="s" x="328.4" y="440.8" text-anchor="middle">5</text>
<text class="s" x="334.7" y="440.8" text-anchor="middle">6</text>
<text class="s" x="340.5" y="440.8" text-anchor="middle">6</text>
<text class="s" x="351" y="440.8" text-anchor="middle">6</text>
<text class="s" x="362" y="440.8" text-anchor="middle">6</text>
<text class="s" x="396.3" y="440.8" text-anchor="middle">6</text>
<text class="s" x="406.9" y="440.8" text-anchor="middle">6</text>
<text class="s" x="421.2" y="440.8" text-anchor="middle">6</text>
<text class="s" x="430" y="440.8" text-anchor="middle">6</text>
<text class="s" x="434.6" y="440.8" text-anchor="middle">6</text>
<text class="s" x="438.8" y="440.8" text-anchor="middle">6</text>
<text class="s" x="442.7" y="440.8" text-anchor="middle">6</text>
<text class="s" x="446.4" y="440.8" text-anchor="middle">6</text>
<text class="s" x="450.8" y="440.8" text-anchor="middle">6</text>
<text class="s" x="455.4" y="440.8" text-anchor="middle">6</text>
<path class="d" d="M334.8 535.6L338.6 539.4L334.8 543.2L331 539.4Z"/>
<path class="d" d="M334.8 542.4L338.6 546.2L334.8 550L331 546.2Z"/>
<path class="d" d="M334.8 544L338.6 547.8L334.8 551.6L331 547.8Z"/>
<path class="d" d="M334.8 549.3L338.6 553.1L334.8 556.9L331 553.1Z"/>
<path class="d" d="M334.8 558.7L338.6 562.5L334.8 566.3L331 562.5Z"/>
<path class="d" d="M334.8 560.3L338.6 564.1L334.8 567.9L331 564.1Z"/>
<path class="d" d="M341.4 516.8L345.2 520.6L341.4 524.4L337.6 520.6Z"/>
<path class="d" d="M341.4 518.4L345.2 522.2L341.4 526L337.6 522.2Z"/>
<path class="d" d="M341.4 520L345.2 523.8L341.4 527.6L337.6 523.8Z"/>
<path class="d" d="M341.4 521.7L345.2 525.5L341.4 529.3L337.6 525.5Z"/>
<path class="d" d="M341.4 523.3L345.2 527.1L341.4 530.9L337.6 527.1Z"/>
<path class="d" d="M350.7 532.9L354.5 536.7L350.7 540.5L346.9 536.7Z"/>
<path class="d" d="M350.7 540.9L354.5 544.7L350.7 548.5L346.9 544.7Z"/>
<path class="d" d="M350.7 550.6L354.5 554.4L350.7 558.2L346.9 554.4Z"/>
<path class="d" d="M361.9 525.3L365.7 529.1L361.9 532.9L358.1 529.1Z"/>
<path class="d" d="M361.9 534.5L365.7 538.3L361.9 542.1L358.1 538.3Z"/>
<path class="d" d="M361.9 541.1L365.7 544.9L361.9 548.7L358.1 544.9Z"/>
<path class="d" d="M361.9 549.7L365.7 553.5L361.9 557.3L358.1 553.5Z"/>
<path class="d" d="M396.7 534.8L400.5 538.6L396.7 542.4L392.9 538.6Z"/>
<path class="d" d="M436.1 467.3L439.9 471.1L436.1 474.9L432.3 471.1Z"/>
<path class="d" d="M430.9 478.9L434.7 482.7L430.9 486.5L427.1 482.7Z"/>
<path class="d" d="M430.9 483.2L434.7 487L430.9 490.8L427.1 487Z"/>
<path class="d" d="M437.2 479.8L441 483.6L437.2 487.4L433.4 483.6Z"/>
<path class="d" d="M437.2 482.2L441 486L437.2 489.8L433.4 486Z"/>
<path class="d" d="M437.2 484.6L441 488.4L437.2 492.2L433.4 488.4Z"/>
<path class="d" d="M431.1 498L434.9 501.8L431.1 505.6L427.3 501.8Z"/>
<path class="d" d="M456.5 502.2L460.3 506L456.5 509.8L452.7 506Z"/>
<path class="d" d="M440.6 504L444.4 507.8L440.6 511.6L436.8 507.8Z"/>
<path class="d" d="M440.6 506.9L444.4 510.7L440.6 514.5L436.8 510.7Z"/>
<path class="d" d="M446.4 504.6L450.2 508.4L446.4 512.2L442.6 508.4Z"/>
<path class="d" d="M446.4 507.5L450.2 511.3L446.4 515.1L442.6 511.3Z"/>
<path class="d" d="M452.2 506.5L456 510.3L452.2 514.1L448.4 510.3Z"/>
<path class="d" d="M452.2 509.6L456 513.4L452.2 517.2L448.4 513.4Z"/>
<path class="d" d="M441.7 514.1L445.5 517.9L441.7 521.7L437.9 517.9Z"/>
<path class="d" d="M452.2 515.4L456 519.2L452.2 523L448.4 519.2Z"/>
<path class="d" d="M456.5 518.6L460.3 522.4L456.5 526.2L452.7 522.4Z"/>
<path class="d" d="M436.9 532.3L440.7 536.1L436.9 539.9L433.1 536.1Z"/>
<path class="d" d="M328.2 576.8L332 580.6L328.2 584.4L324.4 580.6Z"/>
<path class="d" d="M341.4 576.8L345.2 580.6L341.4 584.4L337.6 580.6Z"/>
<path class="d" d="M350.6 576.8L354.4 580.6L350.6 584.4L346.8 580.6Z"/>
<path class="d" d="M361.9 576.8L365.7 580.6L361.9 584.4L358.1 580.6Z"/>
<path class="d" d="M396.3 576.8L400.1 580.6L396.3 584.4L392.5 580.6Z"/>
<path class="d" d="M406.9 576.8L410.7 580.6L406.9 584.4L403.1 580.6Z"/>
<path class="d" d="M421.3 576.8L425.1 580.6L421.3 584.4L417.5 580.6Z"/>
<path class="d" d="M436.7 576.8L440.5 580.6L436.7 584.4L432.9 580.6Z"/>
<path class="d" d="M441.5 576.8L445.3 580.6L441.5 584.4L437.7 580.6Z"/>
<path class="d" d="M446.3 576.8L450.1 580.6L446.3 584.4L442.5 580.6Z"/>
<path class="d" d="M452.1 576.8L455.9 580.6L452.1 584.4L448.3 580.6Z"/>
<path class="d" d="M456 576.8L459.8 580.6L456 584.4L452.2 580.6Z"/>
<rect x="339.1" y="584.2" width="4.6" height="5.8" fill="#dcdcdc"/>
<rect x="348.3" y="584.2" width="4.6" height="5.8" fill="#dcdcdc"/>
<rect x="359.6" y="584.2" width="4.6" height="5.8" fill="#dcdcdc"/>
<rect x="394" y="584.2" width="4.6" height="5.8" fill="#dcdcdc"/>
<rect x="404.6" y="584.2" width="4.6" height="5.8" fill="#dcdcdc"/>
<rect x="419" y="584.2" width="4.6" height="5.8" fill="#dcdcdc"/>
<text class="s" x="328.2" y="589.2" text-anchor="middle">6</text>
<text class="s" x="341.4" y="589.2" text-anchor="middle">1</text>
<text class="s" x="350.6" y="589.2" text-anchor="middle">3</text>
<text class="s" x="361.9" y="589.2" text-anchor="middle">2</text>
<text class="s" x="396.3" y="589.2" text-anchor="middle">5</text>
<text class="s" x="406.9" y="589.2" text-anchor="middle">6</text>
<text class="s" x="421.3" y="589.2" text-anchor="middle">6</text>
<text class="s" x="436.7" y="589.2" text-anchor="middle">2</text>
<text class="s" x="441.5" y="589.2" text-anchor="middle">2</text>
<text class="s" x="446.3" y="589.2" text-anchor="middle">2</text>
<text class="s" x="452.1" y="589.2" text-anchor="middle">2</text>
<text class="s" x="456" y="589.2" text-anchor="middle">3</text>
<path class="d" d="M430.8 636.2L434.6 640L430.8 643.8L427 640Z"/>
<path class="d" d="M430.8 645L434.6 648.8L430.8 652.6L427 648.8Z"/>
<path class="d" d="M430.8 646.47L434.6 650.27L430.8 654.07L427 650.27Z"/>
<path class="d" d="M430.8 647.93L434.6 651.73L430.8 655.53L427 651.73Z"/>
<path class="d" d="M430.8 649.4L434.6 653.2L430.8 657L427 653.2Z"/>
<path class="d" d="M436.3 658.2L440.1 662L436.3 665.8L432.5 662Z"/>
<path class="d" d="M444.4 658L448.2 661.8L444.4 665.6L440.6 661.8Z"/>
<path class="d" d="M440.1 662.6L443.9 666.4L440.1 670.2L436.3 666.4Z"/>
<path class="d" d="M436.6 669.2L440.4 673L436.6 676.8L432.8 673Z"/>
<path class="d" d="M436.6 671.6L440.4 675.4L436.6 679.2L432.8 675.4Z"/>
<path class="d" d="M430.5 683.1L434.3 686.9L430.5 690.7L426.7 686.9Z"/>
<path class="d" d="M436.3 683.1L440.1 686.9L436.3 690.7L432.5 686.9Z"/>
<path class="d" d="M440.1 702.3L443.9 706.1L440.1 709.9L436.3 706.1Z"/>
<path class="d" d="M435.3 726.2L439.1 730L435.3 733.8L431.5 730Z"/>
<path class="d" d="M439 726.2L442.8 730L439 733.8L435.2 730Z"/>
<path class="d" d="M443.5 726.2L447.3 730L443.5 733.8L439.7 730Z"/>
<path class="d" d="M448.6 726.2L452.4 730L448.6 733.8L444.8 730Z"/>
<path class="d" d="M454.2 726.2L458 730L454.2 733.8L450.4 730Z"/>
<text class="s" x="435.3" y="738.6" text-anchor="middle">1</text>
<text class="s" x="439" y="738.6" text-anchor="middle">1</text>
<text class="s" x="443.5" y="738.6" text-anchor="middle">2</text>
<text class="s" x="448.6" y="738.6" text-anchor="middle">3</text>
<text class="s" x="454.2" y="738.6" text-anchor="middle">3</text>
<text class="T" x="1" y="73">D15 Fetal</text>
<text class="T" x="1" y="87.6">AdhFIX</text>
<text class="T" x="48.6" y="224.2">D17 Fetal</text>
<text class="T" x="48.6" y="238.2">AdhFIX</text>
<text class="T" x="211.6" y="371.2">Adult</text>
<text class="T" x="211.6" y="386.4">AdhFIX</text>
<text class="T" x="236.8" y="508.8">Protein</text>
<text class="T" x="236.8" y="523.4">challenge</text>
<text class="T" x="236.8" y="538.1">controls</text>
<text class="T" x="332.2" y="657.3">AdhFIX</text>
<text class="T" x="332.2" y="672">challenge</text>
<text class="T" x="332.2" y="686.4">controls</text>
<text class="y" transform="translate(68.1 80) rotate(-90)" text-anchor="middle">ug hFIX/mL</text>
<text class="y" transform="translate(117.7 225.9) rotate(-90)" text-anchor="middle">ug hFIX/mL</text>
<text class="y" transform="translate(270.2 374.7) rotate(-90)" text-anchor="middle">ug hFIX/mL</text>
<text class="y" transform="translate(300.2 514) rotate(-90)" text-anchor="middle">ug hFIX/mL</text>
<text class="y" transform="translate(399.8 668.6) rotate(-90)" text-anchor="middle">ug hFIX/mL</text>
<text class="P P1" x="164.3" y="14.4">Phase 1</text>
<text class="p" x="164.3" y="24.8">AdhFIX</text>
<text class="p" x="164.3" y="33.9">injection =</text>
<text class="P" x="342.5" y="14.4">Phase 2</text>
<text class="p" x="342.5" y="24.8">hFIX</text>
<text class="p" x="342.5" y="33.9">injections =</text>
<text class="P" x="427" y="14.4">Phase 3</text>
<text class="p" x="427" y="24.8">AdhFIX</text>
<text class="p" x="427" y="33.9">injections =</text>
<path d="M205.1 33.6L206.5 29.4L207.9 33.6Z" fill="#000"/>
<path d="M386.8 33.6L388.2 29.4L389.6 33.6Z" fill="#000"/>
<path d="M470.1 33.6L471.5 29.4L472.9 33.6Z" fill="#000"/>
</svg>
</body></html>
